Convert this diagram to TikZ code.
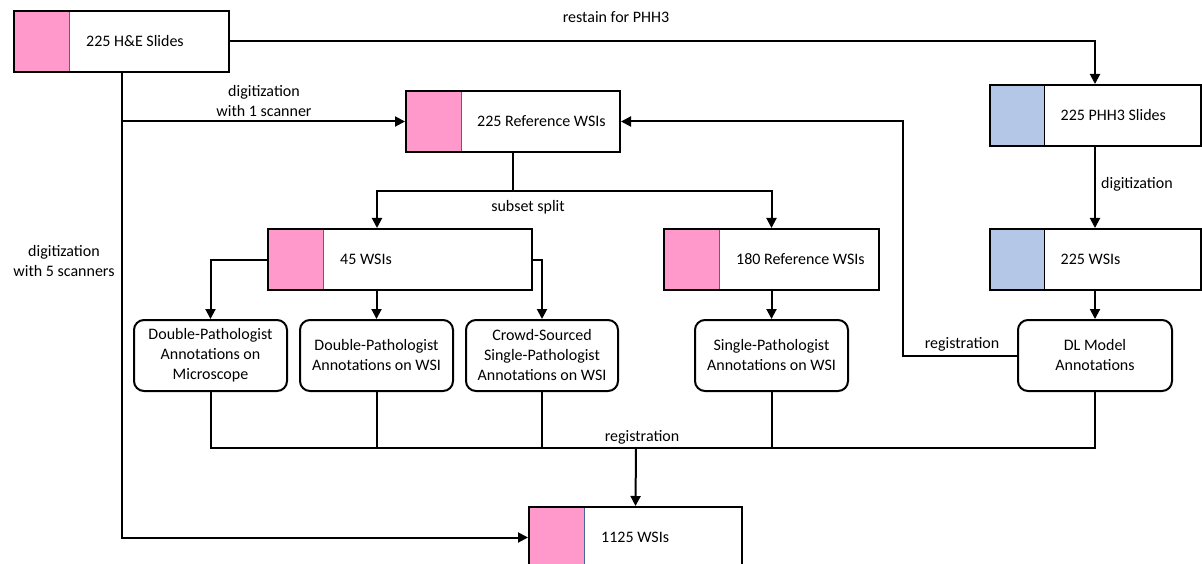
\documentclass[tikz,border=0pt]{standalone}
\usepackage{fontspec}
\setmainfont{Carlito}
\usetikzlibrary{arrows.meta}
\definecolor{hepink}{HTML}{FF99CC}
\definecolor{phblue}{HTML}{B4C7E7}
\definecolor{divblue}{HTML}{4A6598}
\tikzset{
  slidebox/.style={draw=black, line width=2pt, fill=white, minimum height=61pt, inner sep=0pt},
  pinkbox/.style={slidebox, path picture={
      \fill[hepink] (path picture bounding box.north west) rectangle ([xshift=55pt]path picture bounding box.south west);
      \draw[divblue, line width=1pt] ([xshift=55pt]path picture bounding box.north west) -- ([xshift=55pt]path picture bounding box.south west);}},
  bluebox/.style={slidebox, path picture={
      \fill[phblue] (path picture bounding box.north west) rectangle ([xshift=55pt]path picture bounding box.south west);
      \draw[black, line width=1.5pt] ([xshift=55pt]path picture bounding box.north west) -- ([xshift=55pt]path picture bounding box.south west);}},
  annbox/.style={draw=black, line width=2pt, rounded corners=10pt, fill=white, minimum height=71pt, align=center, inner sep=0pt},
  boxtext/.style={anchor=west, inner sep=0pt},
  conn/.style={draw=black, line width=2pt},
  arr/.style={conn, -{Triangle[length=10pt,width=10pt]}},
  lbl/.style={align=center, inner sep=0pt}
}
\begin{document}
\begin{tikzpicture}[x=1pt, y=-1pt, font=\fontsize{16}{20}\selectfont]
\clip (0,0) rectangle (1202,564);
\useasboundingbox (0,0) rectangle (1202,564);

% slide / WSI boxes
\node[pinkbox, minimum width=215pt] (he) at (121.5,41.5) {};
\node[boxtext] (het) at ([xshift=73pt]he.west) {225 H\&E Slides};
\node[pinkbox, minimum width=214pt] (ref) at (513,121.5) {};
\node[boxtext] (reft) at ([xshift=72pt]ref.west) {225 Reference WSIs};
\node[bluebox, minimum width=211pt] (phh) at (1095,115.5) {};
\node[boxtext] (phht) at ([xshift=72pt]phh.west) {225 PHH3 Slides};
\node[bluebox, minimum width=211pt] (w225) at (1095,259.5) {};
\node[boxtext] (w225t) at ([xshift=72pt]w225.west) {225 WSIs};
\node[pinkbox, minimum width=264pt] (w45) at (400,259.5) {};
\node[boxtext] (w45t) at ([xshift=73pt]w45.west) {45 WSIs};
\node[pinkbox, minimum width=215pt] (r180) at (771.5,259.5) {};
\node[boxtext] (r180t) at ([xshift=73pt]r180.west) {180 Reference WSIs};
\node[pinkbox, minimum width=213pt] (w1125) at (635.5,537.5) {};
\node[boxtext] (w1125t) at ([xshift=73pt]w1125.west) {1125 WSIs};

% annotation boxes
\node[annbox, minimum width=153pt] (micro) at (210.5,355.5) {Double-Pathologist\\Annotations on\\Microscope};
\node[annbox, minimum width=153pt] (dpw) at (376.5,355.5) {Double-Pathologist\\Annotations on WSI};
\node[annbox, minimum width=152pt] (crowd) at (542,355.5) {Crowd-Sourced\\Single-Pathologist\\Annotations on WSI};
\node[annbox, minimum width=153pt] (single) at (771.5,355.5) {Single-Pathologist\\Annotations on WSI};
\node[annbox, minimum width=154pt] (dl) at (1095,355.5) {DL Model\\Annotations};

% helper coordinates
\coordinate (b1) at (121.5,121.5);
\coordinate (split) at (513,191);
\coordinate (s45) at (377,191);
\coordinate (rc) at (903,121.5);
\coordinate (reg) at (636,448);

% connectors
\draw[arr] (he.east) -| (phh.north);
\draw[arr] (he.south) |- (w1125.west);
\draw[arr] (b1) -- (ref.west);
\draw[conn] (ref.south) -- (split);
\draw[arr] (split) -- (s45) -- (s45 |- w45.north);
\draw[arr] (split) -| (r180.north);
\draw[arr] (dpw.north |- w45.south) -- (dpw.north);
\draw[arr] (w45.west) -| (micro.north);
\draw[arr] (w45.east) -| (crowd.north);
\draw[arr] (r180.south) -- (single.north);
\draw[arr] (phh.south) -- (w225.north);
\draw[arr] (w225.south) -- (dl.north);
\draw[arr] (dl.west) -| (rc) -- (ref.east);
\draw[conn] (micro.south) |- (reg);
\draw[conn] (dl.south) |- (reg);
\draw[conn] (dpw.south) -- (dpw.south |- reg);
\draw[conn] (crowd.south) -- (crowd.south |- reg);
\draw[conn] (single.south) -- (single.south |- reg);
\draw[arr] (reg) -- (w1125.north);

% labels
\node[lbl] (l1) at (616,17) {restain for PHH3};
\node[lbl] (l2) at (264,101) {digitization\\with 1 scanner};
\node[lbl] (l3) at (64,261) {digitization\\with 5 scanners};
\node[lbl] (l4) at (528,207) {subset split};
\node[lbl, anchor=west] (l5) at (1101,184) {digitization};
\node[lbl] (l6) at (962,344) {registration};
\node[lbl] (l7) at (642,437) {registration};
\end{tikzpicture}
\end{document}
